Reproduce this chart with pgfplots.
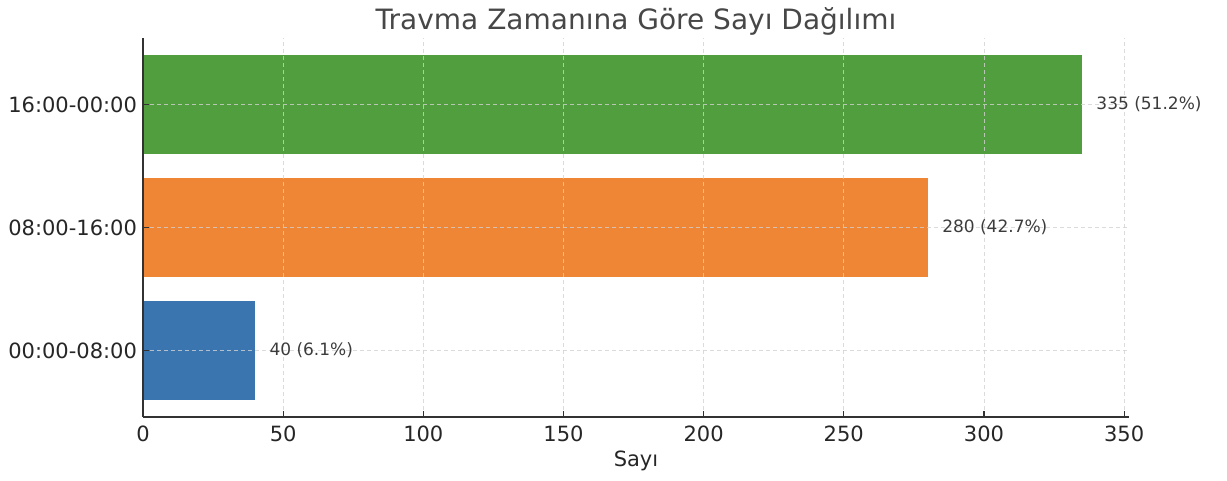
\documentclass[border=0pt]{standalone}
\usepackage{fontspec}
\setmainfont{DejaVu Sans}
\usepackage{pgfplots}
\pgfplotsset{compat=1.18}
\definecolor{barblue}{RGB}{58,117,175}
\definecolor{barorange}{RGB}{239,134,54}
\definecolor{bargreen}{RGB}{81,158,62}
\definecolor{spine}{RGB}{50,50,50}
\definecolor{txt}{RGB}{38,38,38}

\begin{document}
\begin{tikzpicture}
\begin{axis}[
  at={(0,0)}, anchor=south west,
  scale only axis, width=493pt, height=189.5pt,
  xbar, bar width=0.8, bar shift=0pt,
  xmin=0, xmax=351.75, ymin=-0.54, ymax=2.54,
  xtick={0,50,...,350},
  ytick={0,1,2},
  yticklabels={00:00-08:00, 08:00-16:00, 16:00-00:00},
  axis x line*=bottom, axis y line*=left,
  axis line style={spine, line width=0.8pt, -},
  tick style={spine, line width=0.6pt},
  tick align=inside, major tick length=3pt,
  grid=major,
  grid style={dash pattern=on 2pt off 1.5pt, gray!35, line width=0.4pt, opacity=0.8},
  axis on top,
  /pgf/number format/assume math mode=true,
  ticklabel style={font=\fontsize{10.5}{12}\selectfont, text=txt},
  xticklabel style={yshift=-1pt},
  yticklabel style={xshift=0.5pt},
  xlabel={Sayı},
  xlabel style={font=\fontsize{10.5}{12}\selectfont, text=txt, at={(0.5,0)}, anchor=base, yshift=-25pt},
  title={Travma Zamanına Göre Sayı Dağılımı},
  title style={font=\fontsize{14}{16}\selectfont, text=txt!85!white, at={(0.5,1)}, anchor=base, yshift=-2pt},
  point meta=explicit symbolic,
  nodes near coords,
  every node near coord/.append style={anchor=west, inner sep=0pt, xshift=7pt, font=\fontsize{8.5}{10}\selectfont, text=txt!90!white},
]
\addplot[fill=barblue, draw=none] coordinates {(40,0) [40 (6.1\%)]};
\addplot[fill=barorange, draw=none] coordinates {(280,1) [280 (42.7\%)]};
\addplot[fill=bargreen, draw=none] coordinates {(335,2) [335 (51.2\%)]};
\end{axis}
\pgfresetboundingbox
\path[use as bounding box] (-71.5pt,-32pt) rectangle (542pt,208.5pt);
\end{tikzpicture}
\end{document}
